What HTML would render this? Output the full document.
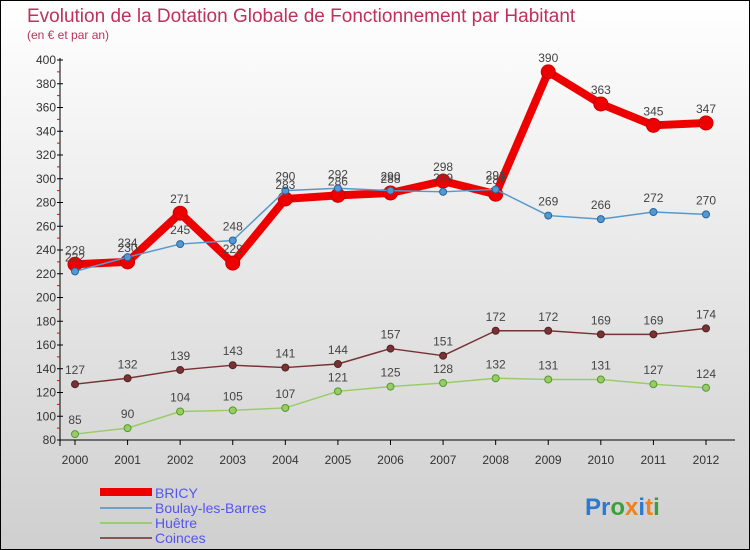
<!DOCTYPE html>
<html><head><meta charset="utf-8"><style>
body{margin:0}
#wrap{width:750px;height:550px;position:relative;overflow:hidden;font-family:"Liberation Sans",sans-serif}
</style></head><body>
<div id="wrap">
<svg id="chart" width="750" height="550" xmlns="http://www.w3.org/2000/svg">
<defs><linearGradient id="bg" x1="0" y1="0" x2="0" y2="1"><stop offset="0" stop-color="#ffffff"/><stop offset="1" stop-color="#cfcfcf"/></linearGradient></defs>
<rect x="0.5" y="0.5" width="749" height="549" fill="url(#bg)" stroke="#000"/>
<text x="27" y="22" font-size="19" fill="#c0305a">Evolution de la Dotation Globale de Fonctionnement par Habitant</text>
<text x="27" y="39" font-size="12" fill="#c0305a">(en € et par an)</text>
<g id="axes"></g><g id="series"></g><g id="labels"></g>
<g>
<rect x="100" y="488" width="52" height="8" fill="#ee0000"/>
<text x="155" y="498" font-size="14" fill="#5555ee">BRICY</text>
<rect x="100" y="507" width="52" height="2" fill="#6fa0c8"/>
<text x="155" y="513" font-size="14" fill="#5555ee">Boulay-les-Barres</text>
<rect x="100" y="522" width="52" height="2" fill="#99cc77"/>
<text x="155" y="528" font-size="14" fill="#5555ee">Huêtre</text>
<rect x="100" y="537" width="52" height="2" fill="#885555"/>
<text x="155" y="543" font-size="14" fill="#5555ee">Coinces</text>
</g>
<text x="585" y="515" font-size="24" font-weight="bold"><tspan fill="#2a7ad0">Pr</tspan><tspan fill="#3aa03a">o</tspan><tspan fill="#f08020">x</tspan><tspan fill="#2a7ad0">i</tspan><tspan fill="#f08020">t</tspan><tspan fill="#3aa03a">i</tspan></text>
</svg></div>
<script>
const years=[2000,2001,2002,2003,2004,2005,2006,2007,2008,2009,2010,2011,2012];
const bricy=[228,230,271,229,283,286,288,298,287,390,363,345,347];
const boulay=[222,234,245,248,290,292,290,289,291,269,266,272,270];
const huetre=[85,90,104,105,107,121,125,128,132,131,131,127,124];
const coinces=[127,132,139,143,141,144,157,151,172,172,169,169,174];
const yTicks=[80,100,120,140,160,180,200,220,240,260,280,300,320,340,360,380,400];
const NS="http://www.w3.org/2000/svg";
const X=i=>75+i*(706-75)/(years.length-1);
const Y=v=>440-(v-80)*(380/320);
function mk(tag,attrs,parent){const e=document.createElementNS(NS,tag);for(const k in attrs)e.setAttribute(k,attrs[k]);parent.appendChild(e);return e;}
const ax=document.getElementById('axes');
let l=mk('line',{x1:60,y1:58,x2:60,y2:446,stroke:'#000'},ax);


l=mk('line',{x1:60,y1:440,x2:735,y2:440,stroke:'#000'},ax);


yTicks.forEach(v=>{const y=Y(v);
 mk('line',{x1:57,y1:y,x2:63,y2:y,stroke:'#000'},ax);
 if(v<400) mk('line',{x1:57,y1:Y(v+10),x2:60,y2:Y(v+10),stroke:'#e00'},ax);
 const t=mk('text',{x:56,y:y+4,'text-anchor':'end','font-size':12,fill:'#333'},ax);t.textContent=v;
 
 
});
years.forEach((yr,i)=>{const x=X(i);
 mk('line',{x1:x,y1:440,x2:x,y2:445,stroke:'#000'},ax);
 const t=mk('text',{x:x,y:464,'text-anchor':'middle','font-size':12,fill:'#333'},ax);t.textContent=yr;
 
 
});
const sg=document.getElementById('series'),lg=document.getElementById('labels');
function draw(data,name,color,w,r,stroke){
 const pts=data.map((v,i)=>X(i)+','+Y(v)).join(' ');
 const p=mk('polyline',{points:pts,fill:'none',stroke:color,'stroke-width':w,'stroke-linejoin':'round'},sg);
 
 
 data.forEach((v,i)=>{
  const c=mk('circle',{cx:X(i),cy:Y(v),r:r,fill:color,stroke:stroke,'stroke-width':1},sg);
  
  
  const t=mk('text',{x:X(i),y:Y(v)-10,'text-anchor':'middle','font-size':12,fill:'#444'},lg);t.textContent=v;
  
  
 });
}
draw(huetre,'huetre','#99cc66',1.5,3.5,'#559933');
draw(coinces,'coinces','#773333',1.5,3.5,'#552222');
draw(bricy,'bricy','#ee0000',8,7,'#cc0000');
draw(boulay,'boulay','#5599cc',1.5,3.5,'#2266aa');
</script>
</body></html>
